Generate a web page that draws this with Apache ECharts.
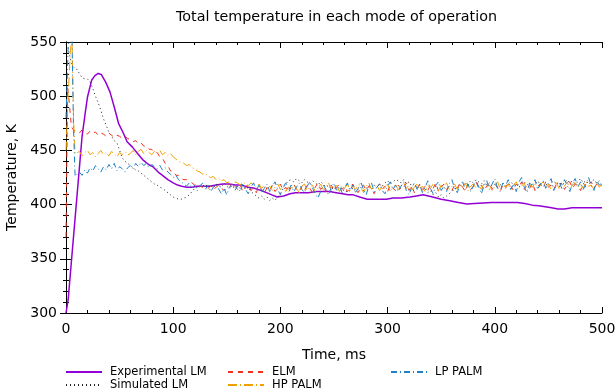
<!DOCTYPE html>
<html>
<head>
<meta charset="utf-8">
<script src="https://cdn.jsdelivr.net/npm/echarts@6/dist/echarts.min.js"></script>
<style>html,body{margin:0;padding:0;background:#fff}#c{width:616px;height:392px}</style>
</head>
<body>
<div id="c"></div>
<script>
// ---- Data ----
const titleText = 'Total temperature in each mode of operation';
const xTicks = [0, 100, 200, 300, 400, 500];
const yTicks = [300, 350, 400, 450, 500, 550];

// Experimental LM (smooth)
const expT = [0,2,5,10,15,18,20,24,27,30, 33,37,41,45,49,53,57,62,67,72, 77,81,86,90,95,100,104,108,113,118,
  122,128,134,140,146,152,158,164,170,176, 182,187,192,197,203,209,214,218,226,234, 240,246,252,258,263,268,274,281,287,293,
  299,305,313,321,327,333,338,342,350,358, 366,374,381,389,397,405,413,421,428,435, 441,447,453,459,465,472,478,484,492,500];
const expV = [300,312,347,405,463,485,499,515,519,521, 520,513,504,490,475,467,458,453,447,441, 437,435,430,427,423,420,418,417,416,416,
  417,417,417,418,419,419,418,418,416,415, 413,411,409,407,408,410,411,411,411,412, 412,412,411,410,409,409,407,405,405,405,
  405,406,406,407,408,409,408,407,405,403.5, 402,400.5,401,401.5,402,402,402,402,401,399.5, 399,398,397,396,396,397,397,397,397,397];

// Sampling grid for the noisy series: 10 ms .. 500 ms every 2.5 ms
const gridStart = 10, gridStep = 2.5;

const simEarlyT = [0, 2, 4, 6, 8];
const simEarlyV = [548, 545, 535, 528, 526];
const simV = [
  525,521,517,516,516,513,507,500,494,487,479,473,467,463,459,457,450,443,440,438,
  436,434,432,431,429,427,425,423,421,419,418,416,415,413,411,409,407,406,405,405,
  406,407,409,412,415,416,418,417,419,416,418,415,419,417,416,420,417,415,418,416,
  417,415,418,414,416,412,410,408,406,408,405,407,404,406,404,407,410,415,419,422,
  423,421,424,422,420,423,421,419,422,420,418,421,419,416,418,414,416,413,415,412,
  414,411,413,415,412,414,416,413,415,417,414,418,416,419,417,420,422,419,421,423,
  422,420,423,419,421,417,419,415,417,413,415,411,413,409,411,407,409,406,408,410,
  412,415,414,418,417,420,419,422,420,423,421,419,422,418,420,417,419,416,418,420,
  417,419,421,418,420,416,419,421,418,420,417,419,422,418,421,419,417,420,422,419,
  421,418,420,423,420,422,419,421,424,420,422,419,421,423,420,422,421];

const elmEarlyT = [0, 1.5, 3, 5, 7.5];
const elmEarlyV = [370, 508, 495, 472, 468];
const elmV = [
  468,466,469,467,465,468,466,467,464,466,465,463,466,464,462,464,463,461,463,461,
  460,458,459,456,457,454,454,451,451,448,448,444,443,438,436,431,431,427,427,424,
  423,423,421,420,418,419,417,416,418,415,417,414,416,418,415,413,416,419,415,417,
  414,418,412,416,419,413,415,411,417,414,410,416,413,418,412,415,419,413,416,411,
  416,419,414,412,417,413,418,415,411,416,420,414,417,412,415,418,413,416,419,414,
  417,412,415,419,414,411,416,418,413,417,415,410,416,419,414,417,412,418,415,413,
  418,414,416,420,413,417,411,415,419,414,417,413,418,415,420,412,416,419,414,417,
  413,418,415,420,416,412,419,414,417,421,415,418,413,417,420,414,419,416,412,418,
  415,420,417,413,419,416,421,414,418,415,420,413,417,419,415,421,416,418,414,419,
  416,420,414,418,421,415,419,417,413,420,416,418,421,415,419,417,418];

const hpEarlyT = [0, 2, 4, 5.5, 7, 8.5];
const hpEarlyV = [450, 500, 540, 558, 480, 447];
const hpV = [
  446,449,445,448,450,446,448,444,447,450,446,448,445,449,447,444,448,446,449,446,
  447,450,446,449,451,447,450,448,446,449,447,450,446,448,445,447,444,442,440,439,
  438,436,437,434,433,431,430,428,429,426,425,426,423,424,422,423,420,421,419,421,
  420,418,421,419,417,420,418,416,419,415,418,414,417,413,416,419,414,417,412,416,
  414,418,415,411,417,419,413,416,418,412,415,419,414,417,420,413,416,418,412,417,
  415,419,413,417,414,418,416,411,417,420,414,416,418,413,417,415,419,412,416,418,
  414,417,420,415,418,413,416,419,414,417,412,418,415,419,416,413,418,415,420,414,
  417,419,414,418,416,420,413,417,419,415,418,414,420,416,418,413,417,421,415,418,
  416,419,414,418,421,415,417,420,413,418,416,420,415,418,421,416,419,414,418,420,
  415,419,417,421,414,418,420,416,419,415,421,417,418,414,420,416,419];

const lpEarlyT = [0, 2, 4, 5.5, 7, 8.5];
const lpEarlyV = [480, 545, 570, 560, 470, 426];
const lpV = [
  426,430,427,432,429,434,431,436,433,430,435,432,437,433,438,431,435,433,430,434,
  436,433,438,435,439,436,438,434,437,435,433,436,432,434,430,428,425,427,423,421,
  419,417,420,415,418,413,417,420,414,418,412,416,419,414,410,415,409,416,419,413,
  417,412,419,414,410,416,420,413,418,411,415,419,412,417,421,414,409,416,420,413,
  418,412,416,420,414,411,417,421,415,410,406,412,418,414,409,416,420,413,417,411,
  416,420,413,418,411,415,421,414,409,417,420,412,416,419,413,410,417,421,414,418,
  412,417,421,413,409,416,420,414,418,411,416,422,415,410,418,421,413,417,412,419,
  423,415,411,418,421,414,419,412,417,423,416,410,418,422,414,419,424,415,412,420,
  417,423,414,419,412,421,425,416,411,420,418,423,414,419,422,415,420,424,413,418,
  421,415,423,418,412,420,424,416,421,414,419,425,417,413,422,418,420];

// ---- Build ----
function gridPairs(vals) { return vals.map((v, i) => [gridStart + i * gridStep, v]); }
function pairs(ts, vs) { return ts.map((t, i) => [t, vs[i]]); }

const FONT = 'DejaVu Sans';
const chart = echarts.init(document.getElementById('c'), null, { renderer: 'canvas' });

const axisCommon = {
  axisLine: { show: true, lineStyle: { color: '#000', width: 1 } },
  axisTick: { show: true, inside: true, length: 6, lineStyle: { color: '#000' } },
  minorTick: { show: true, splitNumber: 5, length: 3, lineStyle: { color: '#000' } },
  splitLine: { show: false },
  minorSplitLine: { show: false }
};

function legendAt(names, left) {
  return {
    data: names, left: left, top: 366, orient: 'vertical', padding: 0, itemGap: 1,
    itemWidth: 36, itemHeight: 11,
    itemStyle: { opacity: 0, borderWidth: 0 },
    textStyle: { fontFamily: FONT, fontSize: 11.5, color: '#000', padding: [0, 0, 0, 3] }
  };
}

const option = {
  animation: false,
  backgroundColor: '#fff',
  title: {
    text: titleText, left: 171, top: 5,
    textStyle: { fontFamily: FONT, fontSize: 14.3, fontWeight: 'normal', color: '#000' }
  },
  grid: { left: 66, right: 14, top: 42, bottom: 79, show: false, outerBoundsMode: 'none', containLabel: false },
  legend: [
    legendAt(['Experimental LM', 'Simulated LM'], 65),
    legendAt(['ELM', 'HP PALM'], 227),
    legendAt(['LP PALM'], 390)
  ],
  xAxis: [
    Object.assign({}, axisCommon, {
      type: 'value', min: xTicks[0], max: xTicks[xTicks.length - 1], interval: 100, position: 'bottom',
      name: 'Time, ms', nameLocation: 'middle', nameGap: 35,
      nameTextStyle: { fontFamily: FONT, fontSize: 14, color: '#000' },
      axisLabel: { fontFamily: FONT, fontSize: 14, color: '#000', margin: 9 }
    }),
    Object.assign({}, axisCommon, {
      type: 'value', min: xTicks[0], max: xTicks[xTicks.length - 1], interval: 100, position: 'top',
      axisLabel: { show: false }
    })
  ],
  yAxis: [
    Object.assign({}, axisCommon, {
      type: 'value', min: yTicks[0], max: yTicks[yTicks.length - 1], interval: 50, position: 'left',
      name: 'Temperature, K', nameLocation: 'middle', nameGap: 39,
      nameTextStyle: { fontFamily: FONT, fontSize: 14, color: '#000' },
      axisLabel: { fontFamily: FONT, fontSize: 14, color: '#000', margin: 9 }
    }),
    Object.assign({}, axisCommon, {
      type: 'value', min: yTicks[0], max: yTicks[yTicks.length - 1], interval: 50, position: 'right',
      axisLabel: { show: false }
    })
  ],
  series: [
    { name: 'Experimental LM', type: 'line', data: pairs(expT, expV), showSymbol: false, symbol: 'none', clip: true,
      lineStyle: { color: '#9400d3', width: 1.5 }, itemStyle: { color: '#9400d3' } },
    { name: 'Simulated LM', type: 'line', data: pairs(simEarlyT, simEarlyV).concat(gridPairs(simV)), showSymbol: false, symbol: 'none', clip: true,
      lineStyle: { color: '#222', width: 1, type: [1, 3] }, itemStyle: { color: '#222' } },
    { name: 'ELM', type: 'line', data: pairs(elmEarlyT, elmEarlyV).concat(gridPairs(elmV)), showSymbol: false, symbol: 'none', clip: true,
      lineStyle: { color: '#f0321e', width: 1, type: [5, 5] }, itemStyle: { color: '#f0321e' } },
    { name: 'HP PALM', type: 'line', data: pairs(hpEarlyT, hpEarlyV).concat(gridPairs(hpV)), showSymbol: false, symbol: 'none', clip: true,
      lineStyle: { color: '#f0a000', width: 1, type: [9, 3, 1, 3] }, itemStyle: { color: '#f0a000' } },
    { name: 'LP PALM', type: 'line', data: pairs(lpEarlyT, lpEarlyV).concat(gridPairs(lpV)), showSymbol: false, symbol: 'none', clip: true,
      lineStyle: { color: '#1f80c8', width: 1, type: [6, 3, 1, 3] }, itemStyle: { color: '#1f80c8' } }
  ]
};
chart.setOption(option);
</script>
</body>
</html>
